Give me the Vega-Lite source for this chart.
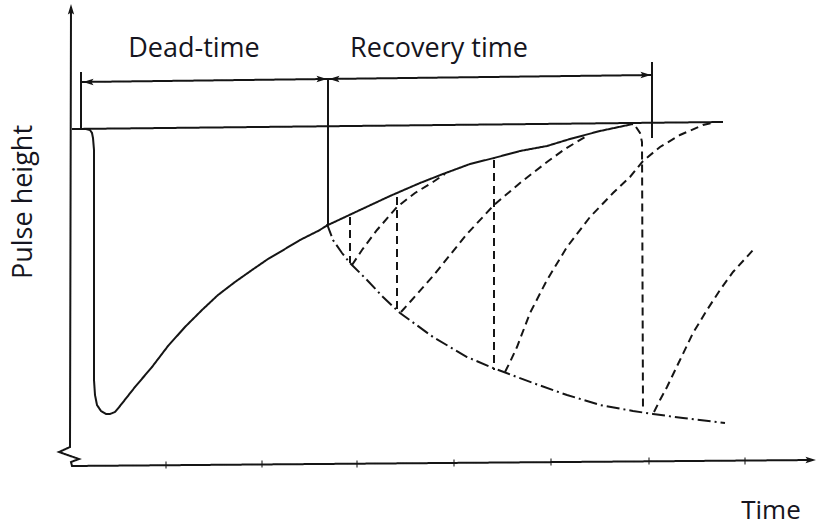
{
  "$schema": "https://vega.github.io/schema/vega-lite/v6.json",
  "width": 820,
  "height": 529,
  "autosize": {"type": "none"},
  "padding": 0,
  "background": "white",
  "config": {"view": {"stroke": null}},
  "datasets": {
    "lines": [
      {"g":"axes","k":"solid","o":1,"x":-1,"y":459},
      {"g":"axes","k":"solid","o":2,"x":-2,"y":19},
      {"g":"axes","k":"solid","o":3,"x":-13,"y":14},
      {"g":"axes","k":"solid","o":4,"x":7,"y":7},
      {"g":"axes","k":"solid","o":5,"x":-1,"y":4},
      {"g":"axes","k":"solid","o":6,"x":0,"y":0},
      {"g":"axes","k":"solid","o":7,"x":741,"y":6},
      {"g":"base","k":"solid","o":1,"x":0,"y":337},
      {"g":"base","k":"solid","o":2,"x":651,"y":344},
      {"g":"dim","k":"solid","o":1,"x":9,"y":384},
      {"g":"dim","k":"solid","o":2,"x":580,"y":391},
      {"g":"dimL","k":"solid","o":1,"x":9,"y":394},
      {"g":"dimL","k":"solid","o":2,"x":9,"y":338},
      {"g":"dimM","k":"solid","o":1,"x":256,"y":388},
      {"g":"dimM","k":"solid","o":2,"x":256,"y":242},
      {"g":"dimR","k":"solid","o":1,"x":580,"y":404},
      {"g":"dimR","k":"solid","o":2,"x":580,"y":328},
      {"g":"pulse","k":"solid","o":1,"x":0,"y":337},
      {"g":"pulse","k":"solid","o":2,"x":14,"y":337},
      {"g":"pulse","k":"solid","o":3,"x":18,"y":336},
      {"g":"pulse","k":"solid","o":4,"x":20,"y":333},
      {"g":"pulse","k":"solid","o":5,"x":21,"y":328},
      {"g":"pulse","k":"solid","o":6,"x":22,"y":316},
      {"g":"pulse","k":"solid","o":7,"x":22,"y":86},
      {"g":"pulse","k":"solid","o":8,"x":23,"y":71},
      {"g":"pulse","k":"solid","o":9,"x":25,"y":61},
      {"g":"pulse","k":"solid","o":10,"x":29,"y":55},
      {"g":"pulse","k":"solid","o":11,"x":34,"y":52},
      {"g":"pulse","k":"solid","o":12,"x":38,"y":52},
      {"g":"pulse","k":"solid","o":13,"x":43,"y":54},
      {"g":"pulse","k":"solid","o":14,"x":48,"y":60},
      {"g":"pulse","k":"solid","o":15,"x":63,"y":79},
      {"g":"pulse","k":"solid","o":16,"x":80,"y":99},
      {"g":"pulse","k":"solid","o":17,"x":96,"y":120},
      {"g":"pulse","k":"solid","o":18,"x":113,"y":139},
      {"g":"pulse","k":"solid","o":19,"x":130,"y":156},
      {"g":"pulse","k":"solid","o":20,"x":146,"y":171},
      {"g":"pulse","k":"solid","o":21,"x":163,"y":184},
      {"g":"pulse","k":"solid","o":22,"x":180,"y":196},
      {"g":"pulse","k":"solid","o":23,"x":196,"y":207},
      {"g":"pulse","k":"solid","o":24,"x":213,"y":217},
      {"g":"pulse","k":"solid","o":25,"x":228,"y":226},
      {"g":"pulse","k":"solid","o":26,"x":246,"y":235},
      {"g":"pulse","k":"solid","o":27,"x":256,"y":241},
      {"g":"pulse","k":"solid","o":28,"x":288,"y":256},
      {"g":"pulse","k":"solid","o":29,"x":318,"y":270},
      {"g":"pulse","k":"solid","o":30,"x":348,"y":283},
      {"g":"pulse","k":"solid","o":31,"x":371,"y":292},
      {"g":"pulse","k":"solid","o":32,"x":398,"y":302},
      {"g":"pulse","k":"solid","o":33,"x":422,"y":308},
      {"g":"pulse","k":"solid","o":34,"x":448,"y":315},
      {"g":"pulse","k":"solid","o":35,"x":475,"y":320},
      {"g":"pulse","k":"solid","o":36,"x":498,"y":327},
      {"g":"pulse","k":"solid","o":37,"x":528,"y":335},
      {"g":"pulse","k":"solid","o":38,"x":561,"y":342},
      {"g":"env","k":"dashdot","o":1,"x":255,"y":242},
      {"g":"env","k":"dashdot","o":2,"x":261,"y":226},
      {"g":"env","k":"dashdot","o":3,"x":270,"y":213},
      {"g":"env","k":"dashdot","o":4,"x":278,"y":203},
      {"g":"env","k":"dashdot","o":5,"x":295,"y":186},
      {"g":"env","k":"dashdot","o":6,"x":311,"y":169},
      {"g":"env","k":"dashdot","o":7,"x":328,"y":153},
      {"g":"env","k":"dashdot","o":8,"x":361,"y":129},
      {"g":"env","k":"dashdot","o":9,"x":395,"y":109},
      {"g":"env","k":"dashdot","o":10,"x":421,"y":98},
      {"g":"env","k":"dashdot","o":11,"x":461,"y":83},
      {"g":"env","k":"dashdot","o":12,"x":495,"y":71},
      {"g":"env","k":"dashdot","o":13,"x":528,"y":61},
      {"g":"env","k":"dashdot","o":14,"x":561,"y":55},
      {"g":"env","k":"dashdot","o":15,"x":581,"y":52},
      {"g":"env","k":"dashdot","o":16,"x":611,"y":48},
      {"g":"env","k":"dashdot","o":17,"x":653,"y":43},
      {"g":"d1","k":"dashed","o":1,"x":278,"y":249},
      {"g":"d1","k":"dashed","o":2,"x":278,"y":203},
      {"g":"d2","k":"dashed","o":1,"x":325,"y":269},
      {"g":"d2","k":"dashed","o":2,"x":325,"y":154},
      {"g":"d3","k":"dashed","o":1,"x":422,"y":306},
      {"g":"d3","k":"dashed","o":2,"x":422,"y":96},
      {"g":"d4","k":"dashed","o":1,"x":564,"y":339},
      {"g":"d4","k":"dashed","o":2,"x":568,"y":333},
      {"g":"d4","k":"dashed","o":3,"x":570,"y":324},
      {"g":"d4","k":"dashed","o":4,"x":571,"y":56},
      {"g":"c1","k":"dashed","o":1,"x":280,"y":201},
      {"g":"c1","k":"dashed","o":2,"x":290,"y":216},
      {"g":"c1","k":"dashed","o":3,"x":305,"y":236},
      {"g":"c1","k":"dashed","o":4,"x":325,"y":259},
      {"g":"c1","k":"dashed","o":5,"x":343,"y":273},
      {"g":"c1","k":"dashed","o":6,"x":361,"y":284},
      {"g":"c1","k":"dashed","o":7,"x":373,"y":292},
      {"g":"c2","k":"dashed","o":1,"x":329,"y":154},
      {"g":"c2","k":"dashed","o":2,"x":338,"y":164},
      {"g":"c2","k":"dashed","o":3,"x":361,"y":190},
      {"g":"c2","k":"dashed","o":4,"x":395,"y":232},
      {"g":"c2","k":"dashed","o":5,"x":422,"y":261},
      {"g":"c2","k":"dashed","o":6,"x":448,"y":283},
      {"g":"c2","k":"dashed","o":7,"x":475,"y":304},
      {"g":"c2","k":"dashed","o":8,"x":493,"y":317},
      {"g":"c2","k":"dashed","o":9,"x":513,"y":329},
      {"g":"c3","k":"dashed","o":1,"x":433,"y":94},
      {"g":"c3","k":"dashed","o":2,"x":438,"y":104},
      {"g":"c3","k":"dashed","o":3,"x":445,"y":119},
      {"g":"c3","k":"dashed","o":4,"x":458,"y":153},
      {"g":"c3","k":"dashed","o":5,"x":475,"y":186},
      {"g":"c3","k":"dashed","o":6,"x":495,"y":219},
      {"g":"c3","k":"dashed","o":7,"x":518,"y":249},
      {"g":"c3","k":"dashed","o":8,"x":541,"y":273},
      {"g":"c3","k":"dashed","o":9,"x":558,"y":289},
      {"g":"c3","k":"dashed","o":10,"x":571,"y":305},
      {"g":"c3","k":"dashed","o":11,"x":588,"y":319},
      {"g":"c3","k":"dashed","o":12,"x":608,"y":331},
      {"g":"c3","k":"dashed","o":13,"x":631,"y":341},
      {"g":"c3","k":"dashed","o":14,"x":640,"y":343},
      {"g":"c4","k":"dashed","o":1,"x":582,"y":54},
      {"g":"c4","k":"dashed","o":2,"x":588,"y":66},
      {"g":"c4","k":"dashed","o":3,"x":595,"y":79},
      {"g":"c4","k":"dashed","o":4,"x":608,"y":106},
      {"g":"c4","k":"dashed","o":5,"x":621,"y":133},
      {"g":"c4","k":"dashed","o":6,"x":635,"y":156},
      {"g":"c4","k":"dashed","o":7,"x":648,"y":176},
      {"g":"c4","k":"dashed","o":8,"x":661,"y":194},
      {"g":"c4","k":"dashed","o":9,"x":682,"y":217}
    ],
    "arrows": [
      {"x":-1,"y":462,"dir":"up"},
      {"x":744,"y":6,"dir":"right"},
      {"x":11,"y":384,"dir":"left"},
      {"x":255,"y":387,"dir":"right"},
      {"x":257,"y":387,"dir":"left"},
      {"x":579,"y":391,"dir":"right"}
    ],
    "ticks": [
      {"x":94,"y":1},{"x":190,"y":2},{"x":285,"y":2},{"x":382,"y":3},
      {"x":479,"y":4},{"x":577,"y":5},{"x":673,"y":5}
    ],
    "labels": [
      {"text":"Dead-time","x":122,"y":409},
      {"text":"Recovery time","x":367,"y":409}
    ],
    "xlabel": [
      {"text":"Time","x":699,"y":-45}
    ],
    "ylabel": [
      {"text":"Pulse height","x":-40,"y":264}
    ]
  },
  "encoding": {
    "x": {"field":"x","type":"quantitative","scale":{"domain":[-72,748],"nice":false,"zero":false},"axis":null},
    "y": {"field":"y","type":"quantitative","scale":{"domain":[-63,466],"nice":false,"zero":false},"axis":null}
  },
  "layer": [
    {
      "data": {"name":"lines"},
      "mark": {"type":"line","color":"#151515","strokeWidth":2,"clip":false},
      "encoding": {
        "detail": {"field":"g"},
        "order": {"field":"o","type":"quantitative"},
        "strokeDash": {"field":"k","type":"nominal","legend":null,
          "scale":{"domain":["solid","dashed","dashdot"],"range":[[1,0],[8,5],[13,4,2,4]]}}
      }
    },
    {
      "data": {"name":"ticks"},
      "mark": {"type":"tick","orient":"vertical","size":7,"thickness":1.5,"color":"#151515"}
    },
    {
      "data": {"name":"arrows"},
      "mark": {"type":"point","filled":true,"opacity":1,"size":110,"color":"#151515","strokeWidth":0},
      "encoding": {
        "shape": {"field":"dir","type":"nominal","legend":null,
          "scale":{"domain":["up","right","left"],
            "range":["M0,0L-0.6,2L0,1.6L0.6,2Z","M0,0L-2,-0.6L-1.6,0L-2,0.6Z","M0,0L2,-0.6L1.6,0L2,0.6Z"]}}
      }
    },
    {
      "data": {"name":"labels"},
      "mark": {"type":"text","font":"Open Sans","fontSize":27,"color":"#151520","align":"center","baseline":"alphabetic"},
      "encoding": {"text":{"field":"text"}}
    },
    {
      "data": {"name":"xlabel"},
      "mark": {"type":"text","font":"Open Sans","fontSize":26,"color":"#151520","align":"center","baseline":"middle"},
      "encoding": {"text":{"field":"text"}}
    },
    {
      "data": {"name":"ylabel"},
      "mark": {"type":"text","font":"Open Sans","fontSize":27,"color":"#151520","align":"center","baseline":"alphabetic","angle":270},
      "encoding": {"text":{"field":"text"}}
    }
  ]
}
